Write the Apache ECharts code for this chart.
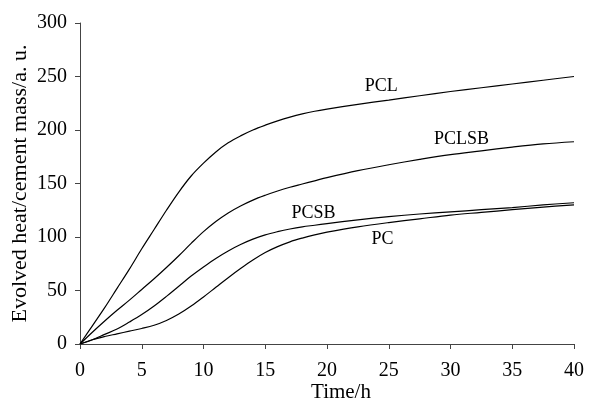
<!DOCTYPE html>
<html>
<head>
<meta charset="utf-8">
<script src="https://cdn.jsdelivr.net/npm/echarts@6/dist/echarts.min.js"></script>
<style>html,body{margin:0;padding:0;background:#fff}#c{width:589px;height:402px}</style>
</head>
<body>
<div id="c"></div>
<script>
var time = [0,1,2,3,4,5,6,7,8,9,10,11,12,13,14,15,16,17,18,19,20,22.5,25,27.5,30,32.5,35,37.5,40];
var PCL   = [0,17,34,52,70,89,107,125,142,157,169,179.5,188,194.5,200,204.5,208.5,212,215,217.5,219.5,224,228,232,236,239.5,243,246.5,250];
var PCLSB = [0,11,21.5,31.5,41,51,61,71.5,82.5,94,105,114.5,122.5,129,134.5,139,143,146.5,149.5,152.5,155.5,162,167.5,172.5,177,180.5,184,187,189];
var PCSB  = [0,4,9,14,20.5,27.5,35.5,44.5,54,63.5,72,80,87,93,98,102,105,107.5,109.5,111,112.5,116,119,121.5,123.5,125.5,127.5,130,132];
var PC    = [0,4,7,9.5,12,14.5,17.5,22,28,35.5,44,53,62,70.5,78.5,85.5,91,95.5,99,102,104.5,109.5,113.5,117,120.5,123,125.5,128,130];
var seriesNames = ['PCL','PCLSB','PCSB','PC'];
var seriesData = [PCL, PCLSB, PCSB, PC];
var labelPos = [[24.4,241],[30.9,191],[18.9,122.5],[24.5,98]];
var xTicks = [0,5,10,15,20,25,30,35,40];
var yTicks = [0,50,100,150,200,250,300];

var font = 'Liberation Serif, Times New Roman, serif';
var chart = echarts.init(document.getElementById('c'));
var series = seriesNames.map(function(n, i){
  return {
    name: n, type: 'line', smooth: 0.35, symbol: 'none',
    data: time.map(function(t, j){ return [t, seriesData[i][j]]; }),
    lineStyle: {color: '#000', width: 1.2},
    markPoint: {
      symbol: 'circle', symbolSize: 0, silent: true,
      label: {show: true, formatter: n, color: '#000', fontFamily: font, fontSize: 18, position: 'inside'},
      data: [{coord: labelPos[i]}]
    }
  };
});
chart.setOption({
  animation: false,
  backgroundColor: '#fff',
  grid: {left: 80, right: 15, top: 23, bottom: 58, containLabel: false, outerBoundsMode: 'none'},
  xAxis: {
    type: 'value', min: xTicks[0], max: xTicks[xTicks.length-1], interval: 5,
    name: 'Time/h', nameLocation: 'middle', nameGap: 38, nameMoveOverlap: false,
    nameTextStyle: {color: '#000', fontFamily: font, fontSize: 21, padding: [0,0,0,28]},
    axisLine: {lineStyle: {color: '#444', width: 1}},
    axisTick: {show: true, length: 5, lineStyle: {color: '#444'}},
    axisLabel: {color: '#000', fontFamily: font, fontSize: 20, margin: 17},
    splitLine: {show: false}
  },
  yAxis: {
    type: 'value', min: yTicks[0], max: yTicks[yTicks.length-1], interval: 50,
    name: 'Evolved heat/cement mass/a. u.', nameLocation: 'middle', nameGap: 49, nameMoveOverlap: false,
    nameTextStyle: {color: '#000', fontFamily: font, fontSize: 22},
    axisLine: {show: true, lineStyle: {color: '#444', width: 1}},
    axisTick: {show: true, length: 5, lineStyle: {color: '#444'}},
    axisLabel: {color: '#000', fontFamily: font, fontSize: 20, margin: 13},
    splitLine: {show: false}
  },
  series: series
});
</script>
</body>
</html>
